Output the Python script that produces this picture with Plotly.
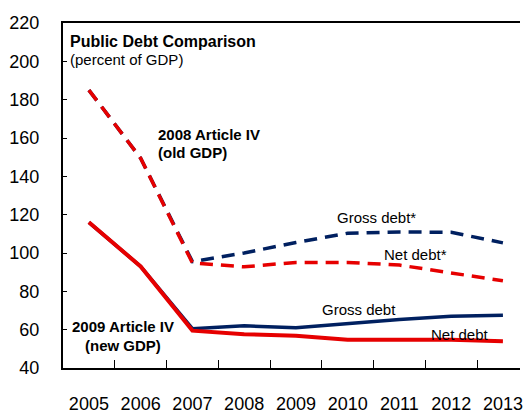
import plotly.graph_objects as go

# Public debt, percent of GDP
years = ["2005", "2006", "2007", "2008", "2009", "2010", "2011", "2012", "2013"]

# 2009 Article IV (new GDP)
gross_new = [116, 93, 60.5, 62, 61, 63.3, 65.3, 67, 67.5]
net_new = [116, 93, 59.5, 57.6, 56.8, 54.8, 54.8, 54.7, 54]

# 2008 Article IV (old GDP)
gross_old = [185, 149.5, 95.5, 100, 105.5, 110.3, 111, 110.8, 105.3]
net_old = [185, 149.5, 94.8, 92.8, 95.1, 95.1, 93.7, 89.8, 85.5]

y_ticks = [40, 60, 80, 100, 120, 140, 160, 180, 200, 220]

RED = "rgb(230,0,0)"
NAVY = "rgb(0,32,96)"
FONT = "Liberation Sans, Arial, sans-serif"
DASH = "13px,8px"

fig = go.Figure()
fig.add_trace(go.Scatter(x=years, y=gross_old, mode="lines",
                         line=dict(color=NAVY, width=3.5, dash=DASH)))
fig.add_trace(go.Scatter(x=years, y=net_old, mode="lines",
                         line=dict(color=RED, width=3.5, dash=DASH)))
fig.add_trace(go.Scatter(x=years, y=gross_new, mode="lines",
                         line=dict(color=NAVY, width=3.5)))
fig.add_trace(go.Scatter(x=years, y=net_new, mode="lines",
                         line=dict(color=RED, width=4)))

def label(text, x, y, bold=False, anchor="center", size=15):
    fig.add_annotation(
        x=x, y=y, xref="x", yref="y", showarrow=False,
        text=f"<b>{text}</b>" if bold else text,
        xanchor=anchor, yanchor="middle",
        font=dict(family=FONT, size=size, color="black"),
    )

label("Public Debt Comparison", -0.41, 210.2, bold=True, anchor="left", size=16)
label("(percent of GDP)", -0.41, 200.9, anchor="left")
label("2008 Article IV", 1.30, 161.7, bold=True, anchor="left")
label("(old GDP)", 1.30, 152.4, bold=True, anchor="left")
label("2009 Article IV", 0.66, 61.7, bold=True)
label("(new GDP)", 0.66, 51.9, bold=True)
label("Gross debt*", 5.56, 118.4)
label("Net debt*", 6.32, 99.3)
label("Gross debt", 5.21, 70.4)
label("Net debt", 7.17, 57.5)

fig.update_layout(
    width=523, height=414,
    margin=dict(l=63, r=0, t=23, b=42),
    paper_bgcolor="white", plot_bgcolor="white",
    showlegend=False,
    font=dict(family=FONT, size=18, color="black"),
)
fig.update_xaxes(
    type="category", range=[-0.5, 8.33],
    showline=True, linecolor="black", linewidth=2, mirror=True,
    ticks="inside", ticklen=8, tickwidth=1, tickcolor="black",
    tickson="boundaries", showgrid=False, zeroline=False,
    tickfont=dict(size=18), ticklabelstandoff=18,
)
fig.update_yaxes(
    range=[40, 220], tickvals=y_ticks,
    showline=True, linecolor="black", linewidth=2,
    ticks="inside", ticklen=4, tickwidth=1, tickcolor="black",
    showgrid=False, zeroline=False,
    tickfont=dict(size=18), ticklabelstandoff=18,
)

fig.write_html("out.html")
